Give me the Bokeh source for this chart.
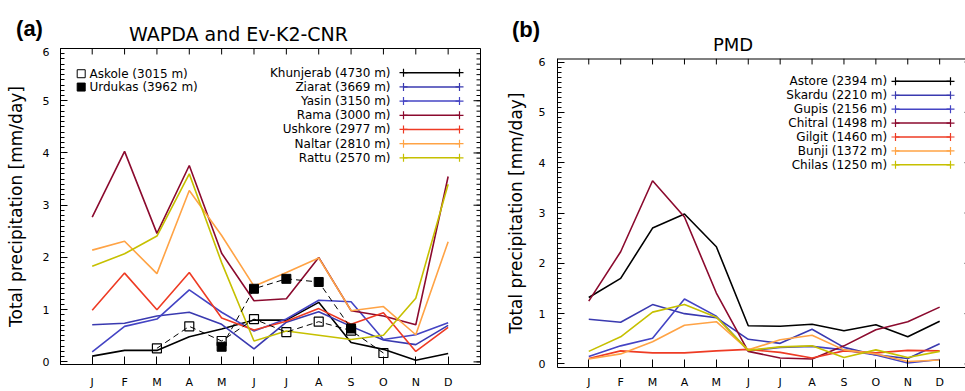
from bokeh.plotting import figure
from bokeh.models import Range1d, LinearAxis, FixedTicker, Label
from bokeh.layouts import row, column
from bokeh.embed import file_html
from bokeh.resources import INLINE

nan = float("nan")

# ---------------- data ----------------
MONTHS = [1, 2, 3, 4, 5, 6, 7, 8, 9, 10, 11, 12]
MONTH_LABELS = ["J", "F", "M", "A", "M", "J", "J", "A", "S", "O", "N", "D"]
Y_TICKS = [0, 1, 2, 3, 4, 5, 6]
Y_MINOR = [k / 10 for k in range(0, 61)]
Y_LABEL = "Total precipitation [mm/day]"

# Panel (a): WAPDA and Ev-K2-CNR
A_TITLE = "WAPDA and Ev-K2-CNR"
A_NAMES = ["Khunjerab (4730 m)", "Ziarat (3669 m)", "Yasin (3150 m)", "Rama (3000 m)",
           "Ushkore (2977 m)", "Naltar (2810 m)", "Rattu (2570 m)"]
khunjerab = [0.11, 0.22, 0.22, 0.48, 0.63, 0.80, 0.80, 1.14, 0.37, 0.24, 0.03, 0.16]
ziarat = [0.71, 0.74, 0.88, 0.95, 0.72, 0.25, 0.76, 0.96, 0.68, 0.42, 0.33, 0.70]
yasin = [0.19, 0.68, 0.82, 1.38, 0.95, 0.59, 0.82, 1.18, 1.15, 0.43, 0.52, 0.75]
rama = [2.77, 4.03, 2.46, 3.76, 2.08, 1.17, 1.21, 2.00, 0.98, 0.88, 0.71, 3.55]
ushkore = [0.99, 1.70, 1.00, 1.71, 0.84, 0.61, 0.78, 1.02, 0.72, 0.94, 0.20, 0.66]
naltar = [2.14, 2.31, 1.69, 3.28, 2.42, 1.45, 1.71, 1.99, 0.98, 1.06, 0.52, 2.30]
rattu = [1.83, 2.07, 2.41, 3.60, 1.90, 0.40, 0.59, 0.51, 0.43, 0.51, 1.22, 3.40]
A_SERIES = [khunjerab, ziarat, yasin, rama, ushkore, naltar, rattu]

POINT_NAMES = ["Askole (3015 m)", "Urdukas (3962 m)"]
askole = [nan, nan, 0.26, 0.68, 0.40, 0.82, 0.57, 0.77, 0.60, 0.17, nan, nan]
urdukas = [nan, nan, nan, nan, 0.29, 1.40, 1.59, 1.53, 0.64, nan, nan, nan]

# Panel (b): PMD
B_TITLE = "PMD"
B_NAMES = ["Astore (2394 m)", "Skardu (2210 m)", "Gupis (2156 m)", "Chitral (1498 m)",
           "Gilgit (1460 m)", "Bunji (1372 m)", "Chilas (1250 m)"]
astore = [1.32, 1.70, 2.70, 2.98, 2.33, 0.76, 0.75, 0.79, 0.66, 0.78, 0.54, 0.85]
skardu = [0.89, 0.83, 1.18, 1.00, 0.92, 0.49, 0.41, 0.69, 0.33, 0.18, 0.11, 0.40]
gupis = [0.15, 0.36, 0.51, 1.29, 0.95, 0.26, 0.33, 0.35, 0.28, 0.18, 0.02, 0.09]
chitral = [1.25, 2.23, 3.64, 2.92, 1.41, 0.25, 0.12, 0.10, 0.36, 0.68, 0.84, 1.13]
gilgit = [0.11, 0.26, 0.22, 0.22, 0.26, 0.29, 0.23, 0.12, 0.26, 0.22, 0.27, 0.26]
bunji = [0.10, 0.20, 0.44, 0.77, 0.84, 0.28, 0.48, 0.57, 0.28, 0.20, 0.05, 0.08]
chilas = [0.25, 0.54, 1.03, 1.18, 0.93, 0.27, 0.34, 0.36, 0.13, 0.28, 0.13, 0.25]
B_SERIES = [astore, skardu, gupis, chitral, gilgit, bunji, chilas]

COLORS = ["#000000", "#3a3ab0", "#4444c4", "#8b0a2e", "#ee3b24", "#ffa345", "#c6c000"]
FONT = "DejaVu Sans"

# ---------------- layout (screen px) ----------------
W, H = 965, 391
WA = 481
WB = W - WA
A_L, A_T, A_W, A_H = 60, 48, 420, 317      # frame of panel a
AX0, AX1 = 0.02, 13.0
AY0, AY1 = -0.05, 6.0
B_L, B_T, B_W, B_H = 557, 58, 408, 311      # frame of panel b (cut by the window)
BX0, BX1 = 0.02, 12.81
BY0, BY1 = -0.07, 6.07
B_RIGHT_AXIS = 13.0                          # true right axis of b lies just outside


def conv(L, T, Wd, Hh, x0, x1, y0, y1):
    fx = lambda sx: x0 + (sx - L) / Wd * (x1 - x0)
    fy = lambda sy: y1 - (sy - T) / Hh * (y1 - y0)
    return fx, fy


ax_, ay_ = conv(A_L, A_T, A_W, A_H, AX0, AX1, AY0, AY1)
bx_, by_ = conv(B_L, B_T, B_W, B_H, BX0, BX1, BY0, BY1)
PXA, PYA = A_W / (AX1 - AX0), A_H / (AY1 - AY0)
PXB, PYB = B_W / (BX1 - BX0), B_H / (BY1 - BY0)


def blank(p):
    p.xgrid.grid_line_color = None
    p.ygrid.grid_line_color = None
    return p


def strip(width, height, sx0):
    s = figure(width=width, height=height, x_range=Range1d(sx0, sx0 + width),
               y_range=Range1d(height, 0), output_backend="svg", toolbar_location=None,
               x_axis_location=None, y_axis_location=None, min_border_left=0,
               min_border_right=0, min_border_top=0, min_border_bottom=0,
               outline_line_color=None, background_fill_color="white",
               border_fill_color="white")
    return blank(s)


def panel(width, height, x0, x1, y0, y1, mbl, mbr, mbt, mbb, outline):
    p = figure(width=width, height=height, x_range=Range1d(x0, x1), y_range=Range1d(y0, y1),
               output_backend="svg", toolbar_location=None,
               x_axis_location=None, y_axis_location=None,
               min_border_left=mbl, min_border_right=mbr, min_border_top=mbt,
               min_border_bottom=mbb, background_fill_color="white",
               border_fill_color="white", outline_line_color="black" if outline else None,
               outline_line_width=1)
    return blank(p)


def y_axis(standoff, lab_standoff):
    return LinearAxis(ticker=FixedTicker(ticks=Y_TICKS, minor_ticks=Y_MINOR),
                      major_tick_in=7, major_tick_out=0, minor_tick_in=4, minor_tick_out=0,
                      major_label_standoff=standoff, major_label_text_font=FONT,
                      major_label_text_font_size="11px", major_label_text_color="black",
                      axis_line_color="black", major_tick_line_color="black",
                      minor_tick_line_color="black",
                      axis_label=Y_LABEL, axis_label_standoff=lab_standoff,
                      axis_label_text_font=FONT, axis_label_text_font_size="17px",
                      axis_label_text_font_style="normal", axis_label_text_color="black")


def x_axis(standoff):
    return LinearAxis(ticker=FixedTicker(ticks=MONTHS, minor_ticks=[]),
                      major_tick_in=8, major_tick_out=0, minor_tick_in=0, minor_tick_out=0,
                      major_label_standoff=standoff, major_label_text_font=FONT,
                      major_label_text_font_size="11px", major_label_text_color="black",
                      major_label_overrides={m: lab for m, lab in zip(MONTHS, MONTH_LABELS)},
                      axis_line_color="black", major_tick_line_color="black")


def inner_ticks(p, ytop, xright, px, py, top_len=6, maj_len=7, min_len=4):
    p.segment(x0=MONTHS, y0=[ytop] * len(MONTHS), x1=MONTHS,
              y1=[ytop - top_len / py] * len(MONTHS), line_color="black", line_width=1)
    p.segment(x0=[xright] * len(Y_TICKS), y0=Y_TICKS, x1=[xright - maj_len / px] * len(Y_TICKS),
              y1=Y_TICKS, line_color="black", line_width=1)
    p.segment(x0=[xright] * len(Y_MINOR), y0=Y_MINOR, x1=[xright - min_len / px] * len(Y_MINOR),
              y1=Y_MINOR, line_color="black", line_width=1)


def txt(p, x, y, text, size, align="center", bold=False):
    p.add_layout(Label(x=x, y=y, text=text,
                       text_font="Liberation Sans" if bold else FONT,
                       text_font_size=size, text_align=align, text_baseline="middle",
                       text_font_style="bold" if bold else "normal", text_color="black"))


def legend(p, fx, fy, names, row0, dy, text_r, lx0, lx1):
    ys = [fy(row0 + i * dy) for i in range(len(names))]
    n = len(names)
    p.segment(x0=[fx(lx0)] * n, y0=ys, x1=[fx(lx1)] * n, y1=ys, line_color=COLORS, line_width=1.5)
    p.scatter(x=[fx(lx0)] * n + [fx(lx1)] * n, y=ys + ys, marker="cross", size=8,
              line_color=COLORS + COLORS, line_width=1.2)
    for name, yy in zip(names, ys):
        txt(p, fx(text_r), yy, name, "12px", align="right")


# ---------------- panel (a) ----------------
SA_H = A_T - 1
sa = strip(WA, SA_H, 0)
txt(sa, 238, 33, A_TITLE, "19px")
txt(sa, 29, 28, "(a)", "22px", bold=True)

HA = H - SA_H
pa = panel(WA, HA, AX0, AX1, AY0, AY1, A_L, WA - A_L - A_W, 1, HA - 1 - A_H, True)
pa.add_layout(y_axis(11, 14), "left")
pa.add_layout(x_axis(11), "below")
inner_ticks(pa, AY1, AX1, PXA, PYA)

for ys, c in zip(A_SERIES, COLORS):
    pa.line(MONTHS, ys, line_color=c, line_width=1.6)
pa.line(MONTHS, askole, line_color="black", line_width=1, line_dash="6 4")
pa.line(MONTHS, urdukas, line_color="black", line_width=1, line_dash="6 4")
pa.scatter(MONTHS, askole, marker="square", size=9, line_color="black", fill_color=None, line_width=1.2)
pa.scatter(MONTHS, urdukas, marker="square", size=9, line_color="black", fill_color="black")

legend(pa, ax_, ay_, A_NAMES, 72.3, 14.23, 390, 403, 459)
pa.scatter(x=[ax_(80.7)], y=[ay_(73.3)], marker="square", size=8, line_color="black", fill_color=None)
pa.scatter(x=[ax_(80.7)], y=[ay_(86.7)], marker="square", size=8, line_color="black", fill_color="black")
txt(pa, ax_(89), ay_(73.3), POINT_NAMES[0], "12px", align="left")
txt(pa, ax_(89), ay_(86.7), POINT_NAMES[1], "12px", align="left")

# ---------------- panel (b) ----------------
SB_H = B_T - 1
sb = strip(WB, SB_H, WA)
txt(sb, 732.5, 43.5, B_TITLE, "18px")
txt(sb, 525.5, 29, "(b)", "22px", bold=True)

HB = H - SB_H
pb = panel(WB, HB, BX0, BX1, BY0, BY1, B_L - WA, 0, 1, HB - 1 - B_H, False)
pb.add_layout(y_axis(12, 10), "left")
pb.add_layout(x_axis(8), "below")
inner_ticks(pb, BY1, B_RIGHT_AXIS, PXB, PYB)
pb.segment(x0=[BX0], y0=[BY1], x1=[BX1], y1=[BY1], line_color="black", line_width=2)

for ys, c in zip(B_SERIES, COLORS):
    pb.line(MONTHS, ys, line_color=c, line_width=1.6)

legend(pb, bx_, by_, B_NAMES, 81, 14.0, 886.7, 895, 950)

# wrapping each strip in its own row keeps its frame independent of the panel below
layout = row(column(row(sa), pa), column(row(sb), pb))
open("out.html", "w").write(file_html(layout, INLINE))
